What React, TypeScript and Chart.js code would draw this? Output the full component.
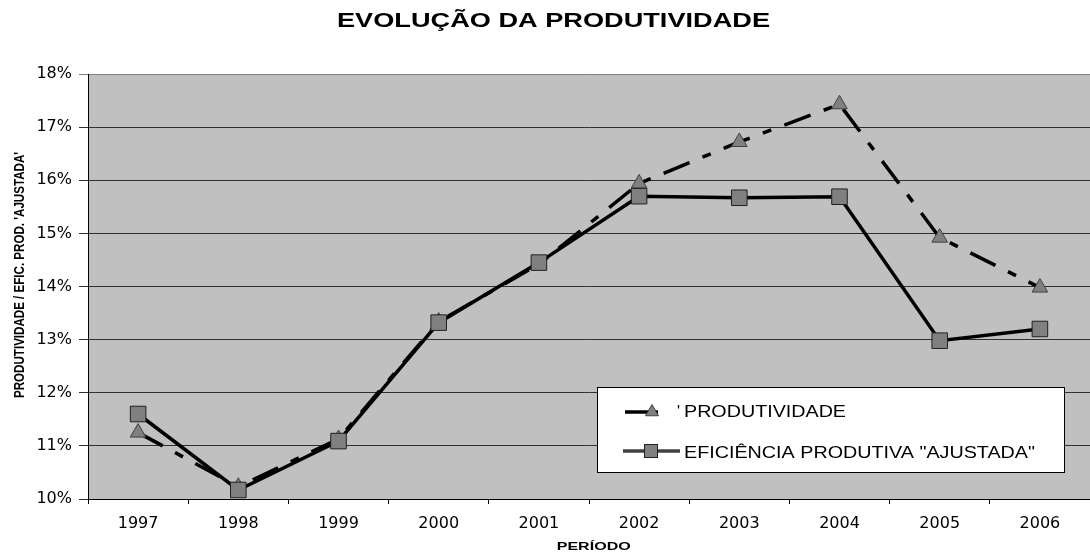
import React, { useEffect, useRef } from "react";
import { Chart, registerables } from "chart.js";

Chart.register(...registerables);

const TITLE = "EVOLUÇÃO DA PRODUTIVIDADE";
const X_TITLE = "PERÍODO";
const Y_TITLE = "PRODUTIVIDADE / EFIC. PROD. 'AJUSTADA'";
const categories = ["1997", "1998", "1999", "2000", "2001", "2002", "2003", "2004", "2005", "2006"];
const produtividade = [11.25, 10.23, 11.13, 13.34, 14.42, 15.94, 16.72, 17.43, 14.92, 13.98];
const eficiencia = [11.6, 10.17, 11.09, 13.32, 14.45, 15.7, 15.67, 15.69, 12.98, 13.2];
const legendLabels = ["PRODUTIVIDADE", "EFICIÊNCIA PRODUTIVA \"AJUSTADA\""];
const yMin = 10;
const yMax = 18;
const yStep = 1;

function fitText(
  ctx: CanvasRenderingContext2D,
  text: string,
  x: number,
  y: number,
  font: string,
  targetW: number,
  align: CanvasTextAlign,
  rotate = 0
) {
  ctx.save();
  ctx.font = font;
  const w = ctx.measureText(text).width;
  const s = targetW / w;
  ctx.translate(x, y);
  if (rotate) ctx.rotate(rotate);
  ctx.scale(s, 1);
  ctx.textAlign = align;
  ctx.textBaseline = "alphabetic";
  ctx.fillStyle = "#000";
  ctx.fillText(text, 0, 0);
  ctx.restore();
}

function drawTriangle(ctx: CanvasRenderingContext2D, x: number, y: number, r: number) {
  ctx.beginPath();
  ctx.moveTo(x, y - r);
  ctx.lineTo(x + r * 0.866, y + r * 0.5);
  ctx.lineTo(x - r * 0.866, y + r * 0.5);
  ctx.closePath();
  ctx.fillStyle = "#808080";
  ctx.fill();
  ctx.strokeStyle = "#404040";
  ctx.lineWidth = 1;
  ctx.stroke();
}

const decorPlugin = {
  id: "decor",
  beforeDraw(chart: any) {
    const { ctx, chartArea } = chart;
    ctx.save();
    ctx.fillStyle = "#C0C0C0";
    ctx.fillRect(chartArea.left, chartArea.top, chartArea.right - chartArea.left, chartArea.bottom - chartArea.top);
    ctx.restore();
  },
  afterDraw(chart: any) {
    const { ctx } = chart;
    fitText(ctx, TITLE, 553.5, 27, "bold 19.5px 'Liberation Sans', Arial, sans-serif", 433, "center");
    fitText(ctx, X_TITLE, 593.7, 550, "bold 10.7px 'Liberation Sans', Arial, sans-serif", 74, "center");
    fitText(ctx, Y_TITLE, 24, 275, "bold 15px 'Liberation Sans', Arial, sans-serif", 246, "center", -Math.PI / 2);

    ctx.save();
    ctx.fillStyle = "#fff";
    ctx.fillRect(597, 387, 468, 86);
    ctx.strokeStyle = "#000";
    ctx.lineWidth = 1;
    ctx.strokeRect(597.5, 387.5, 467, 85);

    ctx.strokeStyle = "#000";
    ctx.lineWidth = 3.5;
    ctx.beginPath();
    ctx.moveTo(625, 412);
    ctx.lineTo(658, 412);
    ctx.stroke();
    drawTriangle(ctx, 652, 412, 7.5);

    ctx.lineWidth = 3.5;
    ctx.beginPath();
    ctx.moveTo(623, 451);
    ctx.lineTo(680, 451);
    ctx.stroke();
    ctx.fillStyle = "#808080";
    ctx.fillRect(644, 444, 14, 14);
    ctx.strokeStyle = "#202020";
    ctx.lineWidth = 1;
    ctx.strokeRect(644.5, 444.5, 13, 13);
    ctx.restore();

    fitText(ctx, "'", 677, 417, "16px 'Liberation Sans', Arial, sans-serif", 3, "left");
    fitText(ctx, legendLabels[0], 684, 417, "16px 'Liberation Sans', Arial, sans-serif", 162, "left");
    fitText(ctx, legendLabels[1], 684, 458, "16px 'Liberation Sans', Arial, sans-serif", 351, "left");
  },
};

export default function App() {
  const ref = useRef<HTMLCanvasElement | null>(null);
  useEffect(() => {
    document.body.style.margin = "0";
    const canvas = ref.current!;
    const chart = new Chart(canvas, {
      type: "line",
      data: {
        labels: categories,
        datasets: [
          {
            label: legendLabels[0],
            data: produtividade,
            borderColor: "#000",
            borderWidth: 3.5,
            borderDash: [28, 14, 9, 14],
            pointStyle: "triangle",
            pointRadius: 9,
            pointBackgroundColor: "#808080",
            pointBorderColor: "#404040",
            pointBorderWidth: 1,
            tension: 0,
            order: 2,
          },
          {
            label: legendLabels[1],
            data: eficiencia,
            borderColor: "#000",
            borderWidth: 3.5,
            pointStyle: "rect",
            pointRadius: 11,
            pointBackgroundColor: "#808080",
            pointBorderColor: "#202020",
            pointBorderWidth: 1,
            tension: 0,
            order: 1,
          },
        ],
      },
      options: {
        animation: false,
        responsive: false,
        devicePixelRatio: 1,
        layout: { autoPadding: false, padding: { top: 74, left: 0, right: 0, bottom: 0 } },
        plugins: {
          legend: { display: false },
          title: { display: false },
          tooltip: { enabled: false },
        },
        scales: {
          x: {
            offset: true,
            grid: {
              drawOnChartArea: false,
              drawTicks: true,
              tickLength: 5,
              offset: true,
              color: "#000",
            },
            border: { color: "#000", width: 1 },
            ticks: {
              color: "#000",
              padding: 10,
              font: { family: "'DejaVu Sans', sans-serif", size: 16 },
              maxRotation: 0,
            },
            afterFit: (scale: any) => {
              scale.height = 53;
              scale.paddingLeft = 0;
              scale.paddingRight = 0;
            },
          },
          y: {
            min: yMin,
            max: yMax,
            grid: {
              drawTicks: true,
              tickLength: 9,
              color: (c: any) => (c.tick && c.tick.value === yMax ? "#808080" : "#303030"),
              lineWidth: 1,
            },
            border: { color: "#000", width: 1 },
            ticks: {
              stepSize: yStep,
              color: "#000",
              padding: 7,
              font: { family: "'DejaVu Sans', sans-serif", size: 16 },
              callback: (v: any) => `${v}%`,
            },
            afterFit: (scale: any) => {
              scale.width = 88;
            },
          },
        },
      },
      plugins: [decorPlugin],
    });
    return () => chart.destroy();
  }, []);
  return (
    <div style={{ position: "absolute", left: 0, top: 0, width: 1090, height: 552 }}>
      <canvas ref={ref} width={1090} height={552} style={{ display: "block" }} />
    </div>
  );
}
